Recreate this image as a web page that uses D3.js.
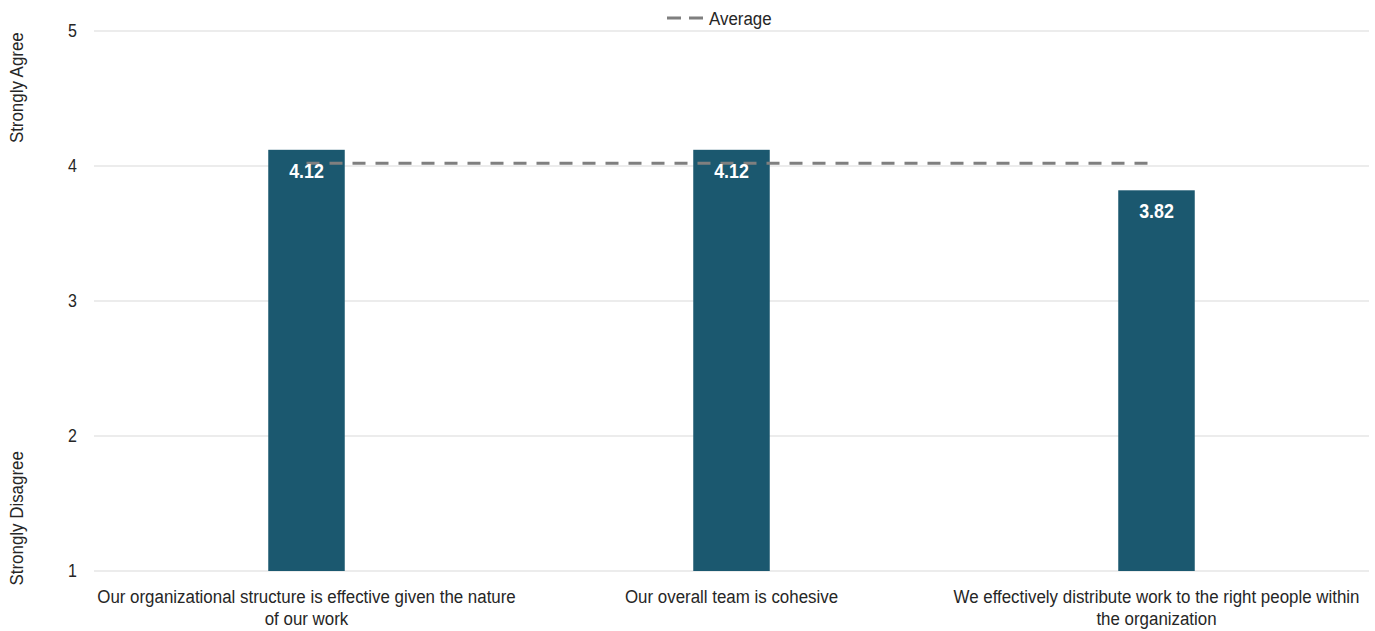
<!DOCTYPE html>
<html><head><meta charset="utf-8">
<script src="https://cdn.jsdelivr.net/npm/d3@7"></script>
<style>body{margin:0;background:#fff}svg{display:block}text{font-family:"Liberation Sans",Arial,sans-serif}</style>
</head><body><svg id="c" width="1375" height="631"></svg>
<script>
const categories = [
  ["Our organizational structure is effective given the nature", "of our work"],
  ["Our overall team is cohesive"],
  ["We effectively distribute work to the right people within", "the organization"]
];
const values = [4.12, 4.12, 3.82];
const average = 4.02;
const yTicks = [1, 2, 3, 4, 5];
const yLabels = ["Strongly Agree", "Strongly Disagree"];
const legendLabel = "Average";

const svg = d3.select("#c");
const m = {l: 94, r: 1369, t: 31, b: 571};
const x = d3.scaleBand().domain(d3.range(categories.length)).range([m.l, m.r]).paddingInner(0.82).paddingOuter(0.41);
const y = d3.scaleLinear().domain([1, 5]).range([m.b, m.t]);
const color = "#1b586f";
const ink = "#262626";
const SX = 0.89;

function ntext(g, px, py, str, opts) {
  const o = Object.assign({size: 19, anchor: "middle", rot: 0, weight: "normal", fill: ink, dy: null, sx: SX}, opts || {});
  const t = g.append("text")
    .attr("transform", `translate(${px},${py}) rotate(${o.rot}) scale(${o.sx},1)`)
    .attr("text-anchor", o.anchor).attr("font-size", o.size).attr("font-weight", o.weight)
    .attr("fill", o.fill).text(str);
  if (o.dy) t.attr("dy", o.dy);
  return t;
}

// gridlines
svg.append("g").selectAll("line").data(yTicks).join("line")
  .attr("x1", m.l).attr("x2", m.r).attr("y1", d => y(d)).attr("y2", d => y(d))
  .attr("stroke", "#d9d9d9").attr("stroke-width", 1);

// y tick labels
const gy = svg.append("g");
yTicks.forEach(d => ntext(gy, 77, y(d), d, {size: 18, anchor: "end", dy: "0.36em"}));

// y titles
ntext(svg, 23, y(4.58), yLabels[0], {rot: -90});
ntext(svg, 23, y(1.39), yLabels[1], {rot: -90});

// bars
svg.append("g").selectAll("rect").data(values).join("rect")
  .attr("x", (d, i) => x(i)).attr("width", x.bandwidth())
  .attr("y", d => y(d)).attr("height", d => y(1) - y(d)).attr("fill", color);

// average line
const cx = i => x(i) + x.bandwidth() / 2;
svg.append("line").attr("x1", cx(0)).attr("x2", cx(categories.length - 1))
  .attr("y1", y(average)).attr("y2", y(average))
  .attr("stroke", "#7f7f7f").attr("stroke-width", 3).attr("stroke-dasharray", "13,10");

// value labels
const gv = svg.append("g");
values.forEach((d, i) => ntext(gv, cx(i), y(d) + 28, d.toFixed(2), {size: 21, weight: "bold", fill: "#fff", sx: 0.85}));

// x labels
const gx = svg.append("g");
categories.forEach((lines, i) => {
  lines.forEach((ln, j) => ntext(gx, cx(i), 603 + j * 22, ln));
});

// legend
svg.append("line").attr("x1", 667).attr("x2", 703).attr("y1", 18).attr("y2", 18)
  .attr("stroke", "#7f7f7f").attr("stroke-width", 3).attr("stroke-dasharray", "14,8");
ntext(svg, 709, 18, legendLabel, {anchor: "start", dy: "0.35em"});
</script></body></html>
